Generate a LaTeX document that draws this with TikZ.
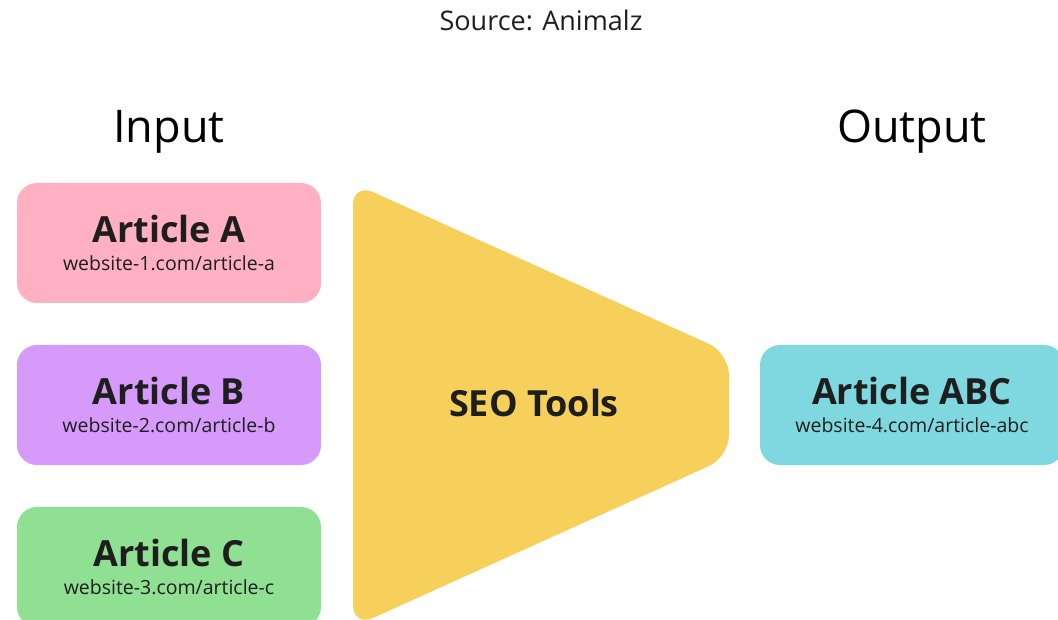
\documentclass[tikz,border=0pt]{standalone}
\usepackage{fontspec}
\setmainfont{Open Sans}
\definecolor{pinkA}{HTML}{FFB0C2}
\definecolor{purpleB}{HTML}{D69BFA}
\definecolor{greenC}{HTML}{90E094}
\definecolor{cyanABC}{HTML}{7FD8E0}
\definecolor{seoyellow}{HTML}{F6D05A}
\definecolor{inktext}{HTML}{1E1E1E}
\tikzset{
  artbox/.style={rounded corners=20pt, minimum width=304pt, minimum height=120pt,
    inner sep=0pt, align=center, text=inktext},
  heading/.style={text=black, font=\fontsize{45}{50}\selectfont},
}
\newcommand{\arttitle}[1]{{\bfseries\fontsize{36}{40}\selectfont #1}}
\newcommand{\arturl}[1]{{\fontsize{19.5}{22}\selectfont #1}}

\begin{document}
\begin{tikzpicture}[x=1pt,y=-1pt]
\useasboundingbox (0,0) rectangle (1058,620);
\clip (0,0) rectangle (1058,620);
\node[text=inktext, font=\fontsize{27}{30}\selectfont] (src) at (541,20) {Source: Animalz};
\node[heading] (inp) at (169,132) {Input};
\node[heading] (outp) at (912,132) {Output};
\foreach \n/\col/\y/\l/\k in {
            a/pinkA/243/A/1,
            b/purpleB/405/B/2,
            c/greenC/567/C/3}
            \node[artbox, fill=\col] (art\n) at (169,\y)
              {\arttitle{Article \l}\\[12pt]\arturl{website-\k.com/article-\n}};
\fill[seoyellow, rounded corners=22pt] (353,183) -- (729,353) -- (729,457) -- (353,627) -- cycle;
\node[text=inktext] (seo) at (534,403) {\arttitle{SEO Tools}};
\node[artbox, fill=cyanABC] (artabc) at (912,405)
  {\arttitle{Article ABC}\\[12pt]\arturl{website-4.com/article-abc}};
\end{tikzpicture}
\end{document}
